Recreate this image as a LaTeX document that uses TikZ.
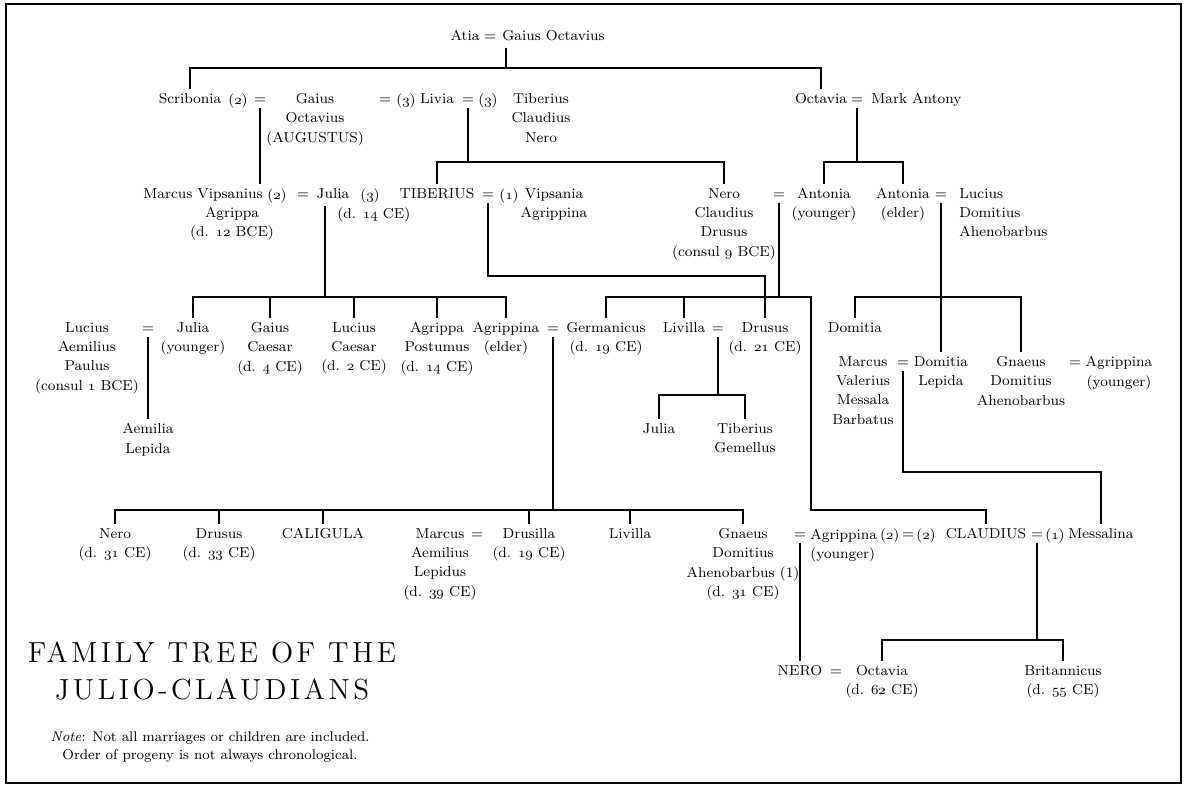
\documentclass[tikz,border=0pt]{standalone}
\usepackage{fontspec}
\newfontfamily\titlefont{lmroman12-regular.otf}[LetterSpace=12]
\newcommand{\osn}[1]{{\usefont{OML}{cmm}{m}{it}#1}}

\begin{document}
\begin{tikzpicture}[x=0.02cm, y=-0.02cm, line width=0.65pt,
  font=\fontsize{8.2}{11}\selectfont,
  person/.style={align=center, anchor=north, inner sep=0pt, outer sep=2.5pt},
  wed/.style={anchor=base, inner sep=0pt, outer sep=2pt}]
  \useasboundingbox (0,0) rectangle (1184,786);
  \draw[line width=0.9pt] (6,4) rectangle (1181,783);

  % --- atia and her children ---
  \node[person] (atia) at (465,26) {Atia};
  \node[wed] (w-atia) at (490,41) {=};
  \node[person, anchor=north west] (gocta) at (498,26) {Gaius Octavius};
  \coordinate (atia-m) at (506,48);

  \node[person] (scrib) at (190,89) {Scribonia};
  \node[person] (scrib-n) at (238,89) {(\osn{2})};
  \node[wed] (w-aug) at (260,104) {=};
  \node[person] (aug) at (315,89) {Gaius\\Octavius\\(AUGUSTUS)};
  \node[wed] (w-liv1) at (385,104) {=};
  \node[person] (liv-n1) at (406,89) {(\osn{3})};
  \node[person] (livia) at (437,89) {Livia};
  \node[wed] (w-liv2) at (468,104) {=};
  \node[person] (liv-n2) at (488,89) {(\osn{3})};
  \node[person] (tcn) at (541,89) {Tiberius\\Claudius\\Nero};
  \node[person] (octavia) at (821,89) {Octavia};
  \node[wed] (w-oct) at (857,104) {=};
  \node[person, anchor=north west] (antony) at (867,89) {Mark Antony};

  \coordinate (bar-a) at (506,68);
  \draw (atia-m) -- (bar-a);
  \draw (scrib.north) |- (bar-a) -| (octavia.north);

  % --- third row ---
  \node[person] (mva) at (203,184) {Marcus Vipsanius};
  \node[person] (mva-x) at (232,203) {Agrippa\\(d. \osn{12} BCE)};
  \node[person] (mva-n) at (277,184) {(\osn{2})};
  \node[wed] (w-mj) at (303,199) {=};
  \node[person] (julia) at (333,184) {Julia};
  \node[person, anchor=north west] (julia-x) at (333,203) {(d. \osn{14} CE)};
  \node[person] (julia-n) at (370,184) {(\osn{3})};
  \node[person] (tib) at (437,184) {TIBERIUS};
  \node[wed] (w-tib) at (488,199) {=};
  \node[person] (tib-n) at (509,184) {(\osn{1})};
  \node[person] (vips) at (554,184) {Vipsania\\Agrippina};
  \node[person] (ncd) at (724,184) {Nero\\Claudius\\Drusus\\(consul \osn{9} BCE)};
  \node[wed] (w-ncd) at (779,199) {=};
  \node[person] (antY) at (824,184) {Antonia\\(younger)};
  \node[person] (antE) at (903,184) {Antonia\\(elder)};
  \node[wed] (w-ant) at (941,199) {=};
  \node[person, align=left, anchor=north west] (lda) at (955,184) {Lucius\\Domitius\\Ahenobarbus};

  \draw (w-aug.south) -- (w-aug.south |- mva.north);
  % livia's sons
  \coordinate (bar-l) at (468,162);
  \draw (w-liv2.south) -- (bar-l);
  \draw (tib.north) |- (bar-l) -| (ncd.north);
  % octavia's daughters
  \coordinate (bar-o) at (857,162);
  \draw (w-oct.south) -- (bar-o);
  \draw (antY.north) |- (bar-o) -| (antE.north);

  % --- fourth row ---
  \node[person] (lap) at (87,318) {Lucius\\Aemilius\\Paulus\\(consul \osn{1} BCE)};
  \node[wed] (w-lap) at (148,333) {=};
  \node[person] (juliaY) at (193,318) {Julia\\(younger)};
  \node[person] (gcae) at (270,318) {Gaius\\Caesar\\(d. \osn{4} CE)};
  \node[person] (lcae) at (354,318) {Lucius\\Caesar\\(d. \osn{2} CE)};
  \node[person] (apos) at (437,318) {Agrippa\\Postumus\\(d. \osn{14} CE)};
  \node[person] (agrE) at (506,318) {Agrippina\\(elder)};
  \node[wed] (w-agr) at (553,333) {=};
  \node[person] (germ) at (606,318) {Germanicus\\(d. \osn{19} CE)};
  \node[person] (livilla) at (684,318) {Livilla};
  \node[wed] (w-liv) at (718,333) {=};
  \node[person] (drusus) at (765,318) {Drusus\\(d. \osn{21} CE)};
  \node[person] (domitia) at (855,318) {Domitia};

  \node[person] (mvmb) at (863,352) {Marcus\\Valerius\\Messala\\Barbatus};
  \node[wed] (w-mv) at (903,367) {=};
  \node[person] (dlep) at (941,352) {Domitia\\Lepida};
  \node[person] (gda) at (1021,352) {Gnaeus\\Domitius\\Ahenobarbus};
  \node[wed] (w-gda) at (1075,367) {=};
  \node[person] (agrY) at (1119,352) {Agrippina\\(younger)};

  % julia's children
  \coordinate (julia-m) at (325,206);
  \coordinate (bar-j) at (325,297);
  \draw (julia-m) -- (bar-j);
  \draw (juliaY.north) |- (bar-j) -| (agrE.north);
  \foreach \k in {gcae, lcae, apos}
    \draw (\k.north) -- (\k.north |- bar-j);
  % tiberius and vipsania
  \coordinate (bar-t) at (765,276);
  \draw (w-tib.south) |- (bar-t) -| (drusus.north);
  % drusus and antonia (younger)
  \coordinate (bar-g) at (779,297);
  \coordinate (cl-turn) at (811,510);
  \draw (w-ncd.south) -- (bar-g);
  \draw (livilla.north) -- (livilla.north |- bar-g);
  % antonia (elder) and ahenobarbus
  \coordinate (bar-d) at (941,297);
  \draw (w-ant.south) -- (dlep.north);
  \draw (domitia.north) |- (bar-d) -| (gda.north);

  % --- grandchildren ---
  \node[person] (aemlep) at (148,419) {Aemilia\\Lepida};
  \node[person] (juliaL) at (659,419) {Julia};
  \node[person] (tgem) at (745,419) {Tiberius\\Gemellus};
  \draw (w-lap.south) -- (aemlep.north);
  \coordinate (bar-lv) at (718,395);
  \draw (w-liv.south) -- (bar-lv);
  \draw (juliaL.north) |- (bar-lv) -| (tgem.north);

  \node[person] (nero1) at (115,524) {Nero\\(d. \osn{31} CE)};
  \node[person] (drusus2) at (219,524) {Drusus\\(d. \osn{33} CE)};
  \node[person] (cal) at (323,524) {CALIGULA};
  \node[person] (mal) at (440,524) {Marcus\\Aemilius\\Lepidus\\(d. \osn{39} CE)};
  \node[wed] (w-mal) at (477,539) {=};
  \node[person] (drusilla) at (529,524) {Drusilla\\(d. \osn{19} CE)};
  \node[person] (livilla2) at (630,524) {Livilla};
  \node[person] (gdah) at (743,524) {Gnaeus\\Domitius\\Ahenobarbus (1)\\(d. \osn{31} CE)};
  \node[wed] (w-agy) at (800,539) {=};
  \node[person, align=left, anchor=north west] (agy) at (806,524) {Agrippina\hspace{0.2em}(\osn{2})\\(younger)};
  \node[wed] (w-cl2) at (908,539) {=};
  \node[person] (cl-n2) at (926,524) {(\osn{2})};
  \node[person] (claud) at (986,524) {CLAUDIUS};
  \node[wed] (w-cl) at (1037,539) {=};
  \node[person] (cl-n1) at (1055,524) {(\osn{1})};
  \node[person] (mess) at (1101,524) {Messalina};

  \draw (germ.north) |- (bar-g) -| (cl-turn) -| (claud.north);
  \coordinate (bar-mv) at (1101,472);
  \draw (w-mv.south) |- (bar-mv) -- (mess.north);
  % agrippina (elder) and germanicus
  \coordinate (bar-c) at (553,510);
  \draw (w-agr.south) -- (bar-c);
  \draw (nero1.north) |- (bar-c) -| (gdah.north);
  \foreach \k in {drusus2, cal, drusilla, livilla2}
    \draw (\k.north) -- (\k.north |- bar-c);

  % --- last row ---
  \node[person] (nero) at (800,661) {NERO};
  \node[wed] (w-nero) at (836,676) {=};
  \node[person] (octv) at (882,661) {Octavia\\(d. \osn{62} CE)};
  \node[person] (brit) at (1063,661) {Britannicus\\(d. \osn{55} CE)};
  \draw (w-agy.south) -- (nero.north);
  \coordinate (bar-cl) at (1037,640);
  \draw (w-cl.south) -- (bar-cl);
  \draw (octv.north) |- (bar-cl) -| (brit.north);

  % title and note
  \node[align=center, anchor=north, inner sep=0pt,
    font=\titlefont\fontsize{16.5}{21}\selectfont]
    (title) at (212,641) {FAMILY TREE OF THE\\JULIO-CLAUDIANS};
  \node[align=center, anchor=north, inner sep=0pt, font=\fontsize{8}{10.2}\selectfont]
    (note) at (210,731)
    {\textit{Note}: Not all marriages or children are included.\\
     Order of progeny is not always chronological.};
\end{tikzpicture}
\end{document}
